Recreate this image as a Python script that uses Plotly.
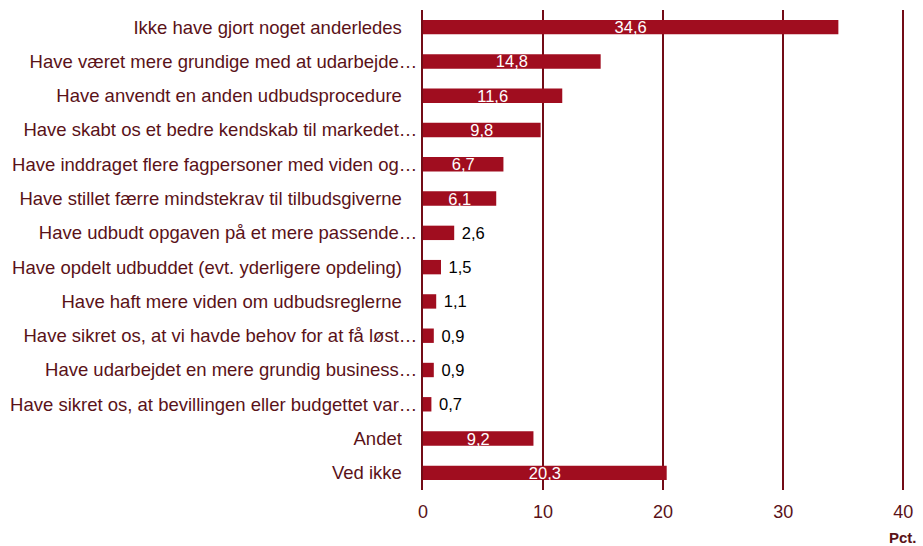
import plotly.graph_objects as go

PAD = "\u00a0\u00a0\u00a0"
categories = [
    "Ikke have gjort noget anderledes" + PAD,
    "Have været mere grundige med at udarbejde…",
    "Have anvendt en anden udbudsprocedure" + PAD,
    "Have skabt os et bedre kendskab til markedet…",
    "Have inddraget flere fagpersoner med viden og…",
    "Have stillet færre mindstekrav til tilbudsgiverne" + PAD,
    "Have udbudt opgaven på et mere passende…",
    "Have opdelt udbuddet (evt. yderligere opdeling)" + PAD,
    "Have haft mere viden om udbudsreglerne" + PAD,
    "Have sikret os, at vi havde behov for at få løst…",
    "Have udarbejdet en mere grundig business…",
    "Have sikret os, at bevillingen eller budgettet var…",
    "Andet" + PAD,
    "Ved ikke" + PAD,
]
values = [34.6, 14.8, 11.6, 9.8, 6.7, 6.1, 2.6, 1.5, 1.1, 0.9, 0.9, 0.7, 9.2, 20.3]
tick_values = [0, 10, 20, 30, 40]

BAR = "#A00D1F"
GRID = "#730C16"
TXT = "#5A1218"

labels = [f"{v:.1f}".replace(".", ",") if v >= 5 else "\u00a0" + f"{v:.1f}".replace(".", ",")
          for v in values]
positions = ["inside" if v >= 5 else "outside" for v in values]
text_colors = ["white" if v >= 5 else "black" for v in values]

fig = go.Figure(go.Bar(
    x=values,
    y=categories,
    orientation="h",
    marker=dict(color=BAR, line=dict(width=0)),
    width=0.42,
    text=labels,
    textposition=positions,
    insidetextanchor="middle",
    textfont=dict(color=text_colors, size=16.5, family="Liberation Sans, Arial"),
    cliponaxis=False,
))

fig.update_layout(
    width=923, height=546,
    margin=dict(l=419, r=15, t=10, b=56),
    plot_bgcolor="white", paper_bgcolor="white",
    font=dict(family="Liberation Sans, Arial", size=18, color=TXT),
    showlegend=False,
    uniformtext=dict(minsize=16, mode="show"),
    xaxis=dict(
        range=[0, 40.15], tickvals=tick_values, showgrid=True, gridcolor=GRID, gridwidth=2,
        zeroline=False, showline=False, ticks="", ticklabelstandoff=9,
        tickfont=dict(size=18, color=TXT),
    ),
    yaxis=dict(
        autorange="reversed", showgrid=False, zeroline=False, showline=True,
        linecolor=GRID, linewidth=2, ticks="", ticklabelstandoff=0,
        tickfont=dict(size=18.5, color=TXT),
    ),
    annotations=[dict(
        text="<b>Pct.</b>", xref="x", yref="paper", x=40, y=0, xanchor="center",
        yanchor="top", yshift=-37, showarrow=False, font=dict(size=15, color=TXT),
    )],
)

fig.write_html(
    "out.html",
    config={"displayModeBar": False},
    post_script="document.body.style.margin='0';document.body.style.overflow='hidden';",
)
